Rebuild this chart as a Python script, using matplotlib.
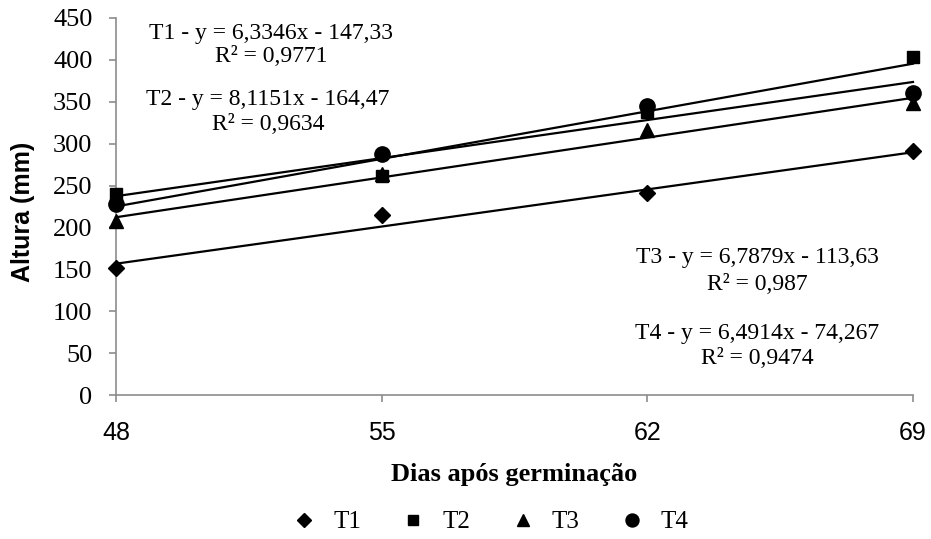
import numpy as np
import matplotlib
matplotlib.use("Agg")
import matplotlib.pyplot as plt
from matplotlib.lines import Line2D

SERIF = "Liberation Serif"
SANS  = "Liberation Sans"
GREY  = "#8c8c8c"

plt.rcParams["font.family"] = SERIF

# ── Data ──────────────────────────────────────────────────────────────────
dias = [48, 55, 62, 69]

t1 = [152, 215, 241, 291]
t2 = [240, 262, 338, 404]
t3 = [208, 264, 316, 349]
t4 = [228, 288, 345, 360]

# trend line coefficients (slope, intercept) and R² as printed on the chart
slopes     = [6.3346, 8.1151, 6.7879, 6.4914]
intercepts = [-147.33, -164.47, -113.63, -74.267]
r2_text    = ["0,9771", "0,9634", "0,987", "0,9474"]
eq_text    = ["6,3346x - 147,33", "8,1151x - 164,47",
              "6,7879x - 113,63", "6,4914x - 74,267"]

names   = ["T1", "T2", "T3", "T4"]
series  = [t1, t2, t3, t4]
markers = ["D", "s", "^", "o"]
msizes  = [8, 8, 10, 11]

y_ticks = list(range(0, 451, 50))

W, H = 931, 539
fig = plt.figure(figsize=(W / 100, H / 100), dpi=100)
ax = fig.add_axes([116 / W, 1 - 395 / H, (913 - 116) / W, (395 - 18) / H])

x = np.array(dias, dtype=float)
for ys, m, ms, a, b in zip(series, markers, msizes, slopes, intercepts):
    ax.plot(x, ys, linestyle="none", marker=m, color="black",
            markersize=ms, zorder=3, clip_on=False)
    xl = np.array([x[0], x[-1]])
    ax.plot(xl, a * xl + b, color="black", linewidth=1.6, zorder=2,
            clip_on=False)

ax.set_xlim(48, 69)
ax.set_ylim(0, 450)
# y tick labels are serif, x tick labels sans (as in the source chart)
ax.set_xticks(dias, labels=[str(d) for d in dias], family=SANS, fontsize=18)
ax.set_yticks(y_ticks, labels=[str(v) for v in y_ticks], family=SERIF,
              fontsize=19)

for side in ["top", "right"]:
    ax.spines[side].set_visible(False)
for side in ["left", "bottom"]:
    ax.spines[side].set_color(GREY)
    ax.spines[side].set_linewidth(1.2)

ax.tick_params(axis="y", direction="out", length=5, width=1.2, color=GREY,
               pad=12)
ax.tick_params(axis="x", direction="out", length=5, width=1.2, color=GREY,
               pad=14)

fig.text(23 / W, 1 - 212 / H, "Altura (mm)", rotation=90, ha="center",
         va="center", fontsize=18, fontweight="bold", family=SANS)
fig.text(514 / W, 1 - 474 / H, "Dias após germinação", ha="center",
         va="center", fontsize=19, fontweight="bold", family=SERIF)

# ── Equation labels ───────────────────────────────────────────────────────
label_pos = [(271, 33, 56), (268, 100, 124), (757, 257, 284), (757, 333, 358)]
for name, eq, r2, (px, py1, py2) in zip(names, eq_text, r2_text, label_pos):
    fig.text(px / W, 1 - py1 / H, f"{name} - y = {eq}", ha="center",
             va="center", fontsize=17, family=SERIF)
    fig.text(px / W, 1 - py2 / H, f"R² = {r2}", ha="center",
             va="center", fontsize=17, family=SERIF)

# ── Legend ────────────────────────────────────────────────────────────────
handles = [Line2D([], [], linestyle="none", marker=m, color="black",
                  markersize=ms * 0.85) for m, ms in zip(markers, msizes)]
fig.legend(handles, names, loc="center", bbox_to_anchor=(490 / W, 1 - 522 / H),
           ncol=4, frameon=False, prop={"family": SERIF, "size": 18},
           handlelength=1.0, handletextpad=0.65, columnspacing=1.6)

fig.savefig("out.png", dpi=100)
